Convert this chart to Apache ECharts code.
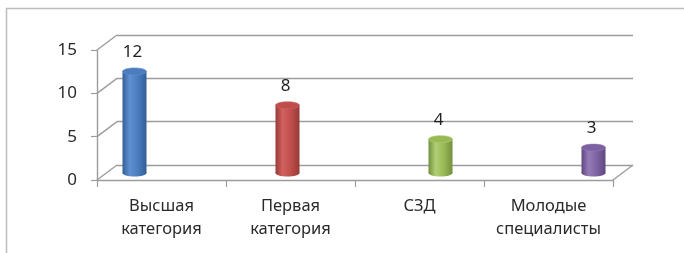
<!DOCTYPE html>
<html lang="ru">
<head>
    <meta charset="UTF-8">
    <title>Категории</title>
    <script src="https://cdn.jsdelivr.net/npm/echarts@6/dist/echarts.min.js"></script>
    <style>
        html, body { margin: 0; padding: 0; background: #fff; }
    </style>
</head>
<body>
<div id="main" style="width: 684px;height:253px;"></div>

<script type="text/javascript">
    // данные диаграммы
    const categories = ['Высшая\nкатегория', 'Первая\nкатегория', 'СЗД', 'Молодые\nспециалисты']
    const values = [12, 8, 4, 3]
    const yTicks = [0, 5, 10, 15]
    const barColors = [
        ['#335f98', '#5f90d0', '#4a7cbe'],
        ['#983a37', '#d2615e', '#be4e4b'],
        ['#73903d', '#b0cf74', '#98b955'],
        ['#5f4780', '#957bb8', '#7d61a1']
    ]
</script>

<script type="text/javascript">
    const chart = echarts.init(document.getElementById('main'))
    const font = '"Noto Sans", sans-serif'
    const lineColor = '#9c9c9c'

    // задняя стенка: x 117..633, y 35..165; передняя ось: x 97..613, y 50..180
    const back = {left: 117, top: 35, width: 516, height: 130}
    const front = {left: 97, top: 50, width: 516, height: 130}

    function renderCylinder(params, api) {
        const i = api.value(0)
        const top = api.coord([i, api.value(1)])
        const base = api.coord([i, 0])
        const w = 24, ry = 3.5
        const x0 = top[0] - w / 2
        const c = barColors[i]
        const body = new echarts.graphic.LinearGradient(0, 0, 1, 0, [
            {offset: 0, color: c[0]},
            {offset: 0.3, color: c[1]},
            {offset: 0.65, color: c[2]},
            {offset: 1, color: c[0]}
        ])
        return {
            type: 'group',
            children: [
                {type: 'ellipse', shape: {cx: top[0], cy: base[1], rx: w / 2, ry: ry}, style: {fill: body}},
                {type: 'rect', shape: {x: x0, y: top[1], width: w, height: base[1] - top[1]}, style: {fill: body}},
                {type: 'ellipse', shape: {cx: top[0], cy: top[1], rx: w / 2, ry: ry}, style: {fill: c[2], stroke: c[1], lineWidth: 0.6}},
                {
                    type: 'text',
                    style: {
                        x: top[0] - 2, y: top[1] - ry - 7,
                        text: String(api.value(1)),
                        font: '17px ' + font, fill: '#1e1e1e',
                        align: 'center', verticalAlign: 'bottom'
                    }
                }
            ]
        }
    }

    const option = {
        animation: false,
        grid: [
            Object.assign({}, back),
            Object.assign({}, front),
            {left: 58, top: 46, width: 612, height: 127}
        ],
        xAxis: [
            {gridIndex: 0, type: 'category', data: categories, show: false},
            {
                gridIndex: 1, type: 'category', data: categories,
                axisLine: {lineStyle: {color: lineColor, width: 1.4}},
                axisTick: {show: true, interval: 0, length: 7, lineStyle: {color: lineColor, width: 1.2}},
                axisLabel: {interval: 0, color: '#2a2a2a', fontSize: 16.5, lineHeight: 23, margin: 15, fontFamily: font}
            },
            {gridIndex: 2, type: 'category', data: categories, show: false}
        ],
        yAxis: [
            {
                gridIndex: 0, type: 'value', min: 0, max: 15, interval: 5,
                axisLine: {show: false}, axisTick: {show: false}, axisLabel: {show: false},
                splitLine: {lineStyle: {color: lineColor, width: 1.4}}
            },
            {
                gridIndex: 1, type: 'value', min: 0, max: 15, interval: 5,
                axisLine: {show: true, lineStyle: {color: lineColor, width: 1.4}},
                axisTick: {show: true, length: 6, lineStyle: {color: lineColor, width: 1.2}},
                axisLabel: {color: '#2a2a2a', fontSize: 17, margin: 20, fontFamily: font},
                splitLine: {show: false}
            },
            {gridIndex: 2, type: 'value', min: 0, max: 15, show: false}
        ],
        series: [{
            type: 'custom',
            xAxisIndex: 2,
            yAxisIndex: 2,
            renderItem: renderCylinder,
            encode: {x: 0, y: 1},
            data: values.map((v, i) => [i, v]),
            z: 10
        }]
    }

    chart.setOption(option)

    // боковая стенка и пол: соединяем переднюю ось с задней стенкой
    const frame = []
    yTicks.forEach(function (v) {
        const yb = chart.convertToPixel({yAxisIndex: 0}, v)
        const yf = chart.convertToPixel({yAxisIndex: 1}, v)
        frame.push({
            type: 'line', silent: true,
            shape: {x1: front.left, y1: yf, x2: back.left, y2: yb},
            style: {stroke: lineColor, lineWidth: 1.4}
        })
    })
    const yb0 = chart.convertToPixel({yAxisIndex: 0}, 0)
    const yf0 = chart.convertToPixel({yAxisIndex: 1}, 0)
    frame.push({
        type: 'line', silent: true,
        shape: {x1: front.left + front.width, y1: yf0, x2: back.left + back.width, y2: yb0},
        style: {stroke: lineColor, lineWidth: 1.4}
    })
    // рамка области диаграммы
    frame.push({
        type: 'rect', silent: true, z: -1,
        shape: {x: 6.5, y: 8.5, width: 720, height: 300},
        style: {fill: 'none', stroke: '#bdbdbd', lineWidth: 1.5}
    })
    chart.setOption({graphic: frame})
</script>
</body>
</html>
